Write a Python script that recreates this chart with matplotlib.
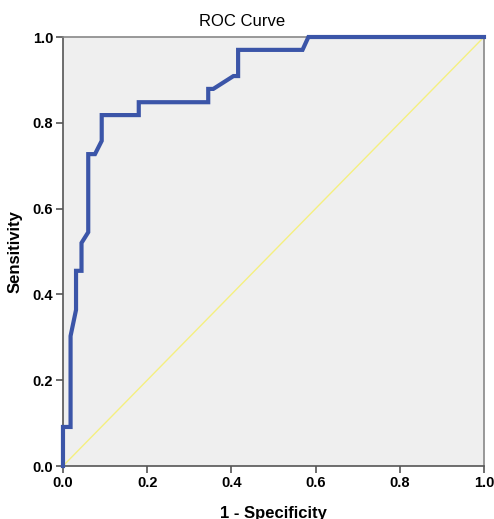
import matplotlib
matplotlib.use("Agg")
import matplotlib.pyplot as plt

plt.rcParams['font.family'] = ['Liberation Sans', 'DejaVu Sans']

# ROC curve points (1 - specificity, sensitivity)
fpr = [0.0, 0.0, 0.018, 0.018, 0.031, 0.031, 0.044, 0.044, 0.06, 0.06,
       0.076, 0.092, 0.092, 0.18, 0.18, 0.345, 0.345, 0.357, 0.405, 0.416,
       0.416, 0.569, 0.583, 1.0]
tpr = [0.0, 0.091, 0.091, 0.303, 0.364, 0.455, 0.455, 0.52, 0.545, 0.727,
       0.727, 0.758, 0.818, 0.818, 0.848, 0.848, 0.879, 0.879, 0.909, 0.909,
       0.970, 0.970, 1.0, 1.0]
ref_line = [0.0, 1.0]
ticks = [0.0, 0.2, 0.4, 0.6, 0.8, 1.0]

fig = plt.figure(figsize=(4.94, 5.19), dpi=100)
ax = fig.add_axes([0.1275, 0.1021, 0.8522, 0.8266])
ax.set_facecolor('#efefef')

ax.plot(ref_line, ref_line, color='#f5ef80', lw=1.0, zorder=2)
ax.plot(fpr, tpr, color='#3b55a8', lw=3.0, solid_joinstyle='miter', zorder=3, clip_on=False)

ax.set_xlim(0, 1)
ax.set_ylim(0, 1)
ax.set_xticks(ticks)
ax.set_yticks(ticks)
ax.set_xticklabels([f'{t:.1f}' for t in ticks], fontweight='bold', fontsize=10.5)
ax.set_yticklabels([f'{t:.1f}' for t in ticks], fontweight='bold', fontsize=10.5)
ax.tick_params(direction='out', length=5, width=1.2, color='#555555', pad=2)

for s in ax.spines.values():
    s.set_color('#888888')
    s.set_linewidth(1.2)
ax.spines['left'].set_color('#555555')
ax.spines['bottom'].set_color('#555555')

ax.set_xlabel('1 - Specificity', fontsize=12, fontweight='bold', labelpad=12)
ax.set_ylabel('Sensitivity', fontsize=12, fontweight='bold', labelpad=7)
fig.text(242 / 494, 1 - 21 / 519, 'ROC Curve', fontsize=12, ha='center', va='center')

fig.savefig('out.png', dpi=100, facecolor='white')
